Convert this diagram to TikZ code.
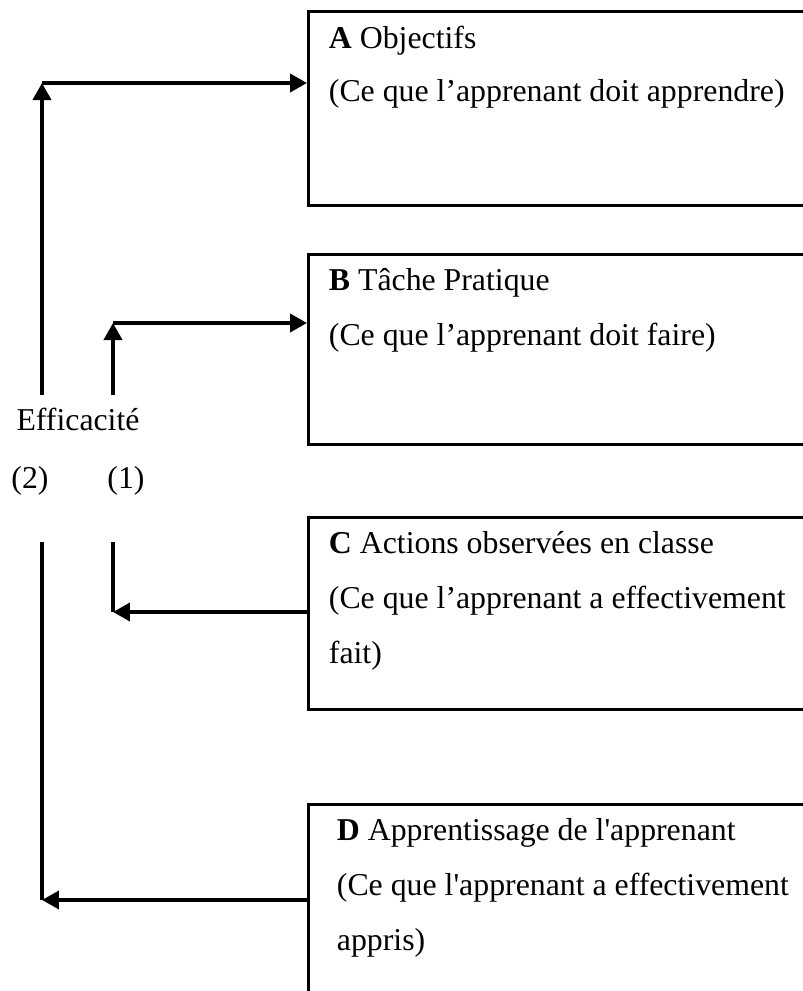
\documentclass[tikz,border=0pt]{standalone}
\usepackage{fontspec}
\setmainfont{Liberation Serif}
\usetikzlibrary{arrows.meta}
\begin{document}
\begin{tikzpicture}[x=0.02cm, y=-0.02cm, line width=2.2pt,
    box/.style = {draw, line width=1.6pt, anchor=north west, minimum width=10.6cm, inner sep=0pt},
    txt/.style = {anchor=base west, inner sep=0pt, font=\fontsize{18.1}{21}\selectfont},
    >={Triangle[length=0.34cm, width=0.36cm]}]
  \useasboundingbox (0,0) rectangle (803,991);
  \clip (0,0) rectangle (803,991);

  % boxes
  \node[box, minimum height=3.88cm] (A) at (307,10) {};
  \node[box, minimum height=3.8cm] (B) [at={(307,253)}] {};
  \node[box, minimum height=3.84cm] (C) [at={(307,516)}] {};
  \node[box, minimum height=4.2cm] (D) [at={(307,803)}] {};

  \node[txt] (A1) at (327,48) {\textbf{A} Objectifs};
  \node[txt] (A2) at (327,101) {(Ce que l’apprenant doit apprendre)};
  \node[txt] (B1) at (327,290) {\textbf{B} Tâche Pratique};
  \node[txt] (B2) at (327,345) {(Ce que l’apprenant doit faire)};
  \node[txt] (C1) at (327,553) {\textbf{C} Actions observées en classe};
  \node[txt] (C2) at (327,608) {(Ce que l’apprenant a effectivement};
  \node[txt] (C3) at (327,663) {fait)};
  \node[txt] (D1) at (335,840) {\textbf{D} Apprentissage de l\textquotesingle apprenant};
  \node[txt] (D2) at (335,895) {(Ce que l\textquotesingle apprenant a effectivement};
  \node[txt] (D3) at (335,950) {appris)};

  % left side
  \node[txt, anchor=base] (eff) at (78,430) {Efficacité};
  \node[txt, anchor=base] (two) at (30,488) {(2)};
  \node[txt, anchor=base] (one) at (126,488) {(1)};

  \coordinate (u2) at (42,395);
  \coordinate (u1) at (113,395);
  \coordinate (t2) at (42,83);
  \coordinate (t1) at (113,323);
  \coordinate (s2) at (42,542);
  \coordinate (s1) at (113,542);
  \coordinate (b1) at (113,612);
  \coordinate (b2) at (42,900);

  \draw[->] (u2) -- (t2);
  \draw[->] (t2) -- (A.west |- t2);
  \draw[->] (u1) -- (t1);
  \draw[->] (t1) -- (B.west |- t1);

  \draw (s1) -- (b1);
  \draw[->] (C.west |- b1) -- (b1);
  \draw (s2) -- (b2);
  \draw[->] (D.west |- b2) -- (b2);
\end{tikzpicture}
\end{document}
